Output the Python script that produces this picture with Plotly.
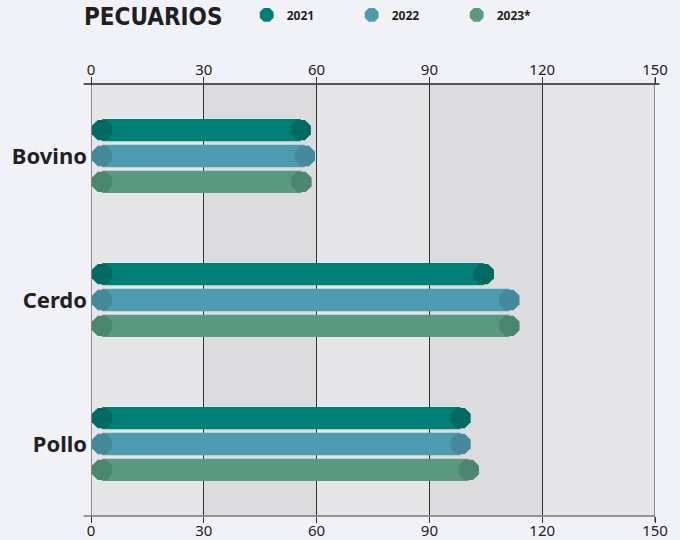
import plotly.graph_objects as go

categories = ["Bovino", "Cerdo", "Pollo"]
years = ["2021", "2022", "2023*"]
v2021 = [58.7, 107.4, 101.2]
v2022 = [59.8, 114.2, 101.2]
v2023 = [58.9, 114.2, 103.4]
x_ticks = [0, 30, 60, 90, 120, 150]

series = [v2021, v2022, v2023]
bar_colors = ["#007f77", "#4e9bae", "#5a9980"]
cap_colors = ["#006a62", "#458a9b", "#4c8670"]
offsets = [-0.18, 0.0, 0.18]

PLOT_W = 564
CAP = 22
inset = (CAP / 2) * 150 / PLOT_W
cat_pos = list(range(len(categories)))

fig = go.Figure()

# alternating bands
for i in range(len(x_ticks) - 1):
    if i % 2 == 1:
        fig.add_shape(type="rect", xref="x", yref="paper", x0=x_ticks[i], x1=x_ticks[i + 1],
                      y0=0, y1=1, fillcolor="#dcdcdf", line_width=0, layer="below")

# edge grid lines (plotly skips grid at range ends)
for xv in (x_ticks[0], x_ticks[-1]):
    fig.add_shape(type="line", xref="x", yref="paper", x0=xv, x1=xv, y0=-0.014, y1=1.014,
                  line=dict(color="#333", width=1), layer="above")

for k, vals in enumerate(series):
    ys = [p + offsets[k] for p in cat_pos]
    fig.add_trace(go.Bar(
        y=ys, x=[v - 2 * inset for v in vals], base=[inset] * len(vals),
        orientation="h", width=0.155, marker=dict(color=bar_colors[k], line_width=0),
        showlegend=False, hoverinfo="skip"))
    xs, yy = [], []
    for v, y in zip(vals, ys):
        xs += [inset, v - inset]
        yy += [y, y]
    fig.add_trace(go.Scatter(
        x=xs, y=yy, mode="markers",
        marker=dict(symbol="octagon", size=CAP, color=cap_colors[k], line_width=0),
        showlegend=False, hoverinfo="skip"))

for k, name in enumerate(years):
    fig.add_trace(go.Scatter(
        x=[None], y=[None], mode="markers", name=name,
        marker=dict(symbol="octagon", size=15, color=bar_colors[k], line_width=0)))

# axis lines
fig.add_shape(type="line", xref="paper", yref="paper", x0=-0.013, x1=1.008, y0=1, y1=1,
              line=dict(color="#222", width=1.5))
fig.add_shape(type="line", xref="paper", yref="paper", x0=-0.013, x1=1.0, y0=0, y1=0,
              line=dict(color="#777", width=1.5))

axis_common = dict(range=[0, 150], tickvals=x_ticks, ticks="outside", ticklen=6,
                   tickcolor="#333", tickfont=dict(family="Noto Sans", size=15, color="#222"),
                   zeroline=False, showline=False, fixedrange=True)

fig.update_layout(
    width=680, height=540,
    margin=dict(l=91, r=25, t=84, b=24, autoexpand=False),
    paper_bgcolor="#f1f2f7", plot_bgcolor="#e6e6e9",
    barmode="overlay",
    xaxis=dict(**axis_common, showgrid=True, gridcolor="#333", gridwidth=1, side="bottom",
               ticklabelstandoff=-5),
    xaxis2=dict(**axis_common, showgrid=False, side="top", overlaying="x", matches="x",
                ticklabelstandoff=-4),
    yaxis=dict(range=[2.5, -0.5], tickvals=cat_pos, ticktext=categories, showgrid=False,
               zeroline=False, ticks="", ticklabelstandoff=3, fixedrange=True,
               tickfont=dict(family="Noto Sans", size=22, color="#222", weight="bold")),
    legend=dict(orientation="h", x=0.276, xanchor="left", y=1.16, yanchor="middle",
                entrywidth=60, entrywidthmode="pixels", itemwidth=30,
                font=dict(family="Noto Sans", size=12, color="#222", weight="bold"),
                bgcolor="rgba(0,0,0,0)"),
    annotations=[dict(text="PECUARIOS", xref="paper", yref="paper", x=-0.016, y=1.155,
                      xanchor="left", yanchor="middle", showarrow=False,
                      font=dict(family="DejaVu Sans Condensed", size=24, color="#231f20",
                                weight="bold"))],
    showlegend=True,
)
fig.add_trace(go.Scatter(x=[None], y=[None], xaxis="x2", showlegend=False, hoverinfo="skip"))

fig.write_html(
    "out.html",
    config={"displayModeBar": False},
    post_script="document.body.style.margin='0';document.body.style.background='#f1f2f7';",
)
